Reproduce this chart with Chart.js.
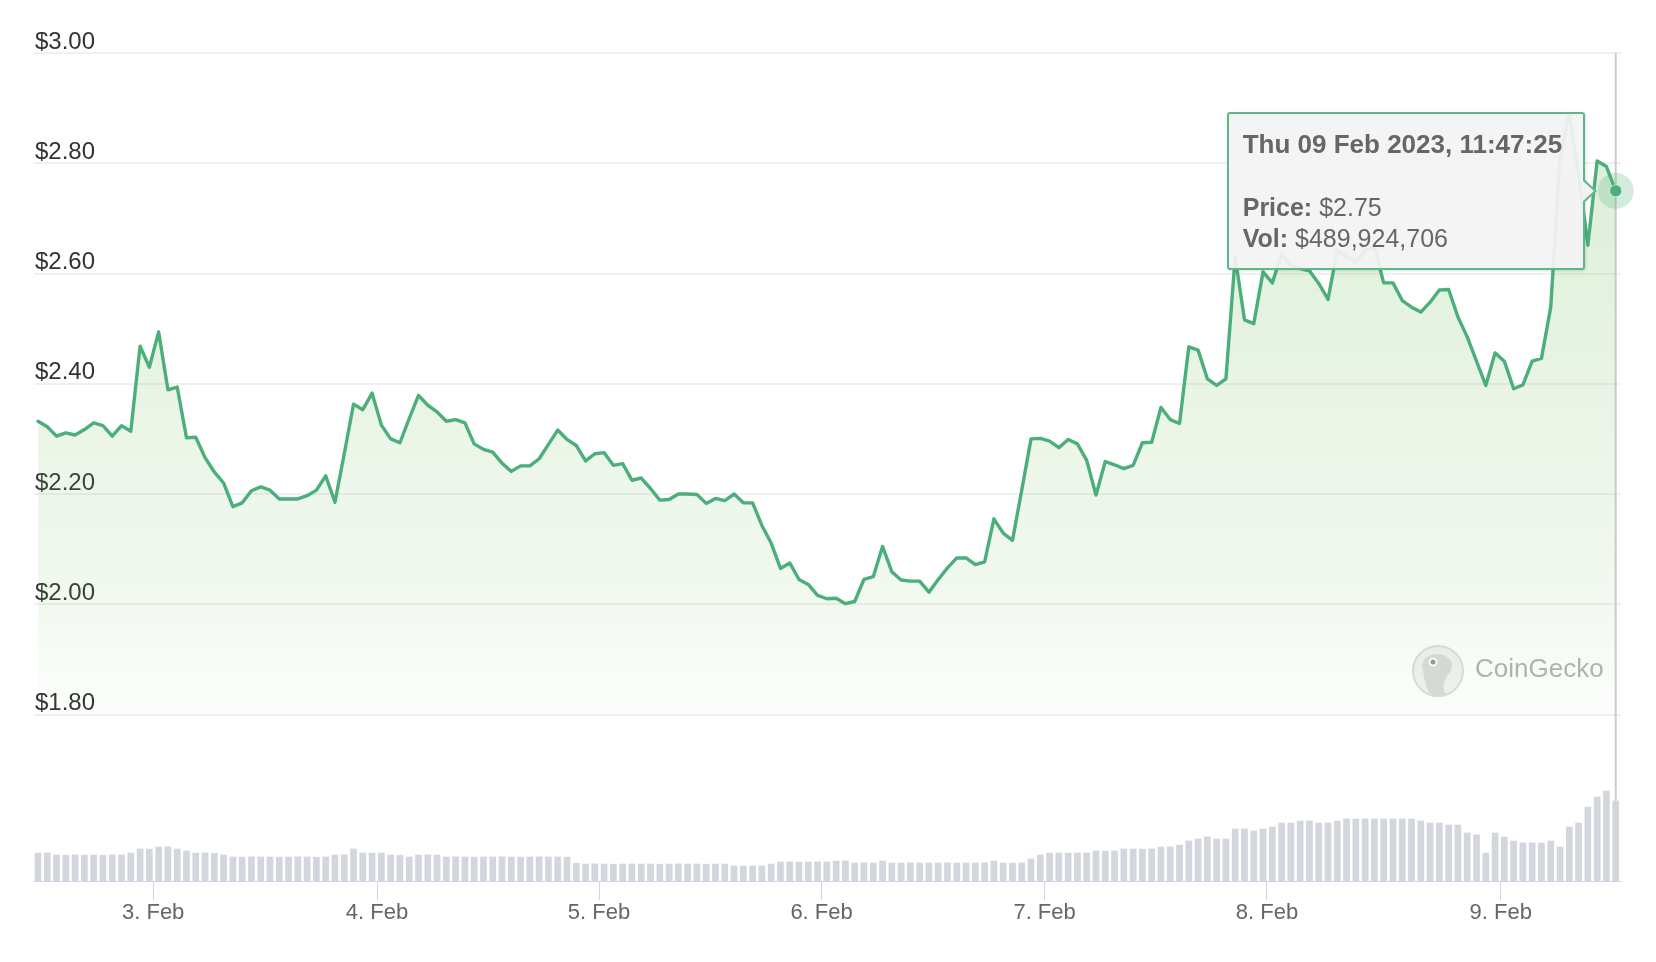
<!DOCTYPE html>
<html>
<head>
<meta charset="utf-8">
<script src="https://cdn.jsdelivr.net/npm/chart.js@4.4.1/dist/chart.umd.min.js"></script>
<style>
  html, body { margin: 0; padding: 0; background: #fff; }
  #wrap { position: relative; width: 1656px; height: 962px; }
  #tip {
    position: absolute; display: none; box-sizing: border-box;
    width: 358px; height: 158px; padding: 15px 14px 0 14px;
    background: rgba(243, 243, 243, 0.93); border: 2px solid #5cb88a; border-radius: 3px;
    box-shadow: 1px 1px 3px rgba(0, 0, 0, 0.12);
    font-family: 'Liberation Sans', Arial, sans-serif; color: #666; font-size: 25px; line-height: 31.5px;
    white-space: nowrap;
  }
  #tip .t { font-weight: bold; font-size: 26px; }
  #tip::before {
    content: ''; position: absolute; right: -14px; top: 50%; margin-top: -12px;
    border-left: 13px solid #5cb88a; border-top: 12px solid transparent; border-bottom: 12px solid transparent;
  }
  #tip::after {
    content: ''; position: absolute; right: -11px; top: 50%; margin-top: -10px;
    border-left: 11px solid #f3f3f3; border-top: 10px solid transparent; border-bottom: 10px solid transparent;
  }
</style>
</head>
<body>
<div id="wrap">
  <canvas id="chart" width="1656" height="962"></canvas>
  <div id="tip"></div>
</div>
<script>
// hourly price (USD), 2 Feb 11:47 -> 9 Feb 11:47
const prices = [
  2.332, 2.322, 2.305, 2.311, 2.307, 2.317, 2.329, 2.324, 2.305, 2.324,
  2.314, 2.468, 2.430, 2.494, 2.389, 2.394, 2.302, 2.303, 2.266, 2.240,
  2.220, 2.177, 2.184, 2.206, 2.213, 2.207, 2.191, 2.191, 2.191, 2.197,
  2.207, 2.233, 2.185, 2.273, 2.363, 2.353, 2.383, 2.325, 2.300, 2.293,
  2.337, 2.379, 2.361, 2.349, 2.332, 2.335, 2.329, 2.291, 2.281, 2.276,
  2.256, 2.241, 2.251, 2.251, 2.264, 2.290, 2.316, 2.299, 2.288, 2.260,
  2.273, 2.275, 2.252, 2.255, 2.225, 2.229, 2.210, 2.189, 2.190, 2.200,
  2.200, 2.199, 2.183, 2.192, 2.188, 2.200, 2.184, 2.184, 2.143, 2.111,
  2.065, 2.075, 2.045, 2.036, 2.016, 2.010, 2.011, 2.001, 2.005, 2.045,
  2.050, 2.105, 2.059, 2.044, 2.042, 2.042, 2.022, 2.045, 2.066, 2.084,
  2.084, 2.072, 2.077, 2.155, 2.129, 2.116, 2.207, 2.300, 2.301, 2.296,
  2.284, 2.299, 2.291, 2.261, 2.198, 2.259, 2.253, 2.246, 2.252, 2.293,
  2.294, 2.357, 2.335, 2.328, 2.467, 2.461, 2.409, 2.397, 2.409, 2.630,
  2.516, 2.509, 2.603, 2.583, 2.636, 2.615, 2.609, 2.605, 2.582, 2.553,
  2.642, 2.630, 2.621, 2.642, 2.648, 2.583, 2.583, 2.551, 2.539, 2.530,
  2.548, 2.570, 2.571, 2.521, 2.485, 2.441, 2.397, 2.456, 2.441, 2.391,
  2.398, 2.441, 2.446, 2.539, 2.811, 2.890, 2.780, 2.651, 2.804, 2.794,
  2.750
]

// 24h volume, millions of USD
const volumes = [
  171, 172, 159, 158, 160, 159, 159, 158, 160, 159,
  171, 196, 195, 208, 209, 196, 184, 171, 172, 170,
  159, 147, 146, 148, 147, 147, 146, 147, 148, 147,
  146, 147, 159, 160, 196, 172, 171, 171, 159, 158,
  147, 159, 160, 159, 147, 148, 147, 146, 147, 147,
  148, 147, 146, 147, 148, 147, 147, 146, 108, 104,
  105, 104, 103, 104, 105, 104, 104, 103, 104, 105,
  104, 104, 103, 104, 104, 92, 91, 92, 92, 104,
  116, 117, 116, 116, 117, 116, 122, 123, 110, 111,
  110, 122, 110, 110, 111, 110, 110, 110, 111, 110,
  110, 110, 111, 122, 110, 110, 111, 135, 159, 171,
  172, 171, 171, 172, 184, 183, 184, 196, 196, 195,
  196, 208, 209, 220, 245, 257, 270, 257, 257, 318,
  319, 306, 318, 331, 355, 355, 367, 368, 355, 355,
  367, 380, 379, 380, 380, 379, 380, 380, 379, 367,
  355, 355, 343, 343, 294, 282, 171, 294, 269, 245,
  233, 233, 232, 245, 208, 331, 355, 453, 514, 551,
  489.924706
]

const priceTicks = [1.8, 2.0, 2.2, 2.4, 2.6, 2.8, 3.0]
// midnight of each day, in sample units
const dayTickPos = [12.41, 36.53, 60.45, 84.43, 108.46, 132.42, 157.61]
const dayTickLabels = ['3. Feb', '4. Feb', '5. Feb', '6. Feb', '7. Feb', '8. Feb', '9. Feb']
const tooltipTitle = 'Thu 09 Feb 2023, 11:47:25'

const FONT = "'Liberation Sans', Arial, Helvetica, sans-serif"
const GREEN = '#4caf7b'

Chart.defaults.font.family = FONT

function areaFill(context) {
  const { chart } = context
  const { ctx, chartArea, scales } = chart
  if (!chartArea) return 'rgba(0,0,0,0)'
  const bottom = scales.y.getPixelForValue(1.8)
  const g = ctx.createLinearGradient(0, chartArea.top, 0, bottom)
  g.addColorStop(0, 'rgba(120,190,100,0.28)')
  g.addColorStop(0.83, 'rgba(120,190,100,0.095)')
  g.addColorStop(1, 'rgba(120,190,100,0.02)')
  return g
}

const fmtPrice = v => '$' + v.toFixed(2)
const fmtVol = v => '$' + Math.round(v * 1e6).toLocaleString('en-US')

function renderTooltip({ tooltip }) {
  const el = document.getElementById('tip')
  if (tooltip.opacity === 0 || !tooltip.dataPoints || !tooltip.dataPoints.length) {
    el.style.display = 'none'
    return
  }
  const i = tooltip.dataPoints[0].dataIndex
  el.innerHTML = `<div class="t">${tooltipTitle}</div><div>&nbsp;</div>` +
    `<div><b>Price:</b> ${fmtPrice(prices[i])}</div><div><b>Vol:</b> ${fmtVol(volumes[i])}</div>`
  el.style.display = 'block'
  el.style.left = (tooltip.caretX - 31 - el.offsetWidth) + 'px'
  el.style.top = (tooltip.caretY - el.offsetHeight / 2) + 'px'
}

// crosshair, hover halo and the watermark
const hoverMarks = {
  id: 'hoverMarks',
  beforeDatasetsDraw(chart) {
    const { ctx, chartArea } = chart
    // watermark
    const tx = chartArea.right - 146, ty = chartArea.bottom - 204
    ctx.save()
    ctx.fillStyle = '#f1f1f1'
    ctx.strokeStyle = '#dcdcdc'
    ctx.lineWidth = 2
    ctx.beginPath(); ctx.arc(tx - 37, ty - 6, 25, 0, Math.PI * 2); ctx.fill(); ctx.stroke()
    ctx.fillStyle = '#dadada'
    ctx.beginPath(); ctx.ellipse(tx - 38, ty - 11, 15, 12, 0, 0, Math.PI * 2); ctx.fill()
    ctx.beginPath(); ctx.moveTo(tx - 52, ty - 8); ctx.quadraticCurveTo(tx - 50, ty + 12, tx - 44, ty + 18)
    ctx.lineTo(tx - 30, ty + 18); ctx.quadraticCurveTo(tx - 34, ty + 6, tx - 26, ty - 4); ctx.closePath(); ctx.fill()
    ctx.fillStyle = '#fff'
    ctx.beginPath(); ctx.arc(tx - 42, ty - 15, 4.5, 0, Math.PI * 2); ctx.fill()
    ctx.fillStyle = '#9a9a9a'
    ctx.beginPath(); ctx.arc(tx - 42, ty - 15, 2.5, 0, Math.PI * 2); ctx.fill()
    ctx.fillStyle = '#b2b2b2'
    ctx.font = '26px ' + FONT
    ctx.textBaseline = 'alphabetic'
    ctx.fillText('CoinGecko', tx, ty)
    ctx.restore()

    const act = chart.getActiveElements()
    if (!act.length) return
    const p = act[0].element
    ctx.save()
    ctx.strokeStyle = '#cccccc'
    ctx.lineWidth = 2
    ctx.beginPath()
    ctx.moveTo(p.x, chartArea.top)
    ctx.lineTo(p.x, chartArea.bottom)
    ctx.stroke()
    ctx.restore()
  },
  afterDatasetsDraw(chart) {
    const act = chart.getActiveElements()
    if (!act.length) return
    const { ctx } = chart
    const p = act[0].element
    ctx.save()
    ctx.fillStyle = 'rgba(80,178,124,0.25)'
    ctx.beginPath(); ctx.arc(p.x, p.y, 18, 0, Math.PI * 2); ctx.fill()
    ctx.fillStyle = GREEN
    ctx.strokeStyle = 'rgba(255,255,255,0.5)'
    ctx.lineWidth = 1
    ctx.beginPath(); ctx.arc(p.x, p.y, 6, 0, Math.PI * 2); ctx.fill(); ctx.stroke()
    ctx.restore()
  }
}

const chart = new Chart(document.getElementById('chart'), {
  type: 'bar',
  data: {
    datasets: [
      {
        type: 'line',
        label: 'Price',
        data: prices.map((p, i) => ({ x: i, y: p })),
        yAxisID: 'y',
        borderColor: GREEN,
        borderWidth: 3.4,
        borderJoinStyle: 'round',
        borderCapStyle: 'round',
        pointRadius: 0,
        pointHoverRadius: 0,
        tension: 0,
        fill: { value: 1.8 },
        backgroundColor: areaFill,
        order: 0
      },
      {
        type: 'bar',
        label: 'Vol',
        data: volumes.map((v, i) => ({ x: i, y: v })),
        yAxisID: 'yv',
        backgroundColor: '#d3d6dc',
        barThickness: 6,
        order: 1
      }
    ]
  },
  options: {
    responsive: false,
    animation: false,
    events: [],
    layout: { padding: { top: 53, right: 35, left: 0, bottom: 0 } },
    plugins: {
      legend: { display: false },
      tooltip: { enabled: false, external: renderTooltip, mode: 'nearest', intersect: false }
    },
    scales: {
      x: {
        type: 'linear',
        min: -0.43,
        max: 170.57,
        offset: false,
        afterFit: s => { s.height = 81 },
        afterBuildTicks: s => { s.ticks = dayTickPos.map(v => ({ value: v })) },
        grid: { offset: false, drawOnChartArea: false, drawTicks: true, tickLength: 19, color: '#ccd6eb', lineWidth: 1 },
        border: { display: true, color: '#ccd6eb', width: 1 },
        ticks: {
          color: '#666', font: { size: 22 }, padding: 0, maxRotation: 0, autoSkip: false,
          callback: (v, idx) => dayTickLabels[idx]
        }
      },
      y: {
        position: 'left',
        min: 1.498,
        max: 3.0,
        afterFit: s => { s.width = 34 },
        afterBuildTicks: s => { s.ticks = priceTicks.map(v => ({ value: v })) },
        grid: { color: '#f0f0f0', lineWidth: 2, drawTicks: false },
        border: { display: false },
        ticks: {
          mirror: true, padding: 1, labelOffset: -11, color: '#333', font: { size: 24 },
          callback: v => '$' + v.toFixed(2)
        }
      },
      yv: { display: false, min: 0, max: 5070 }
    }
  },
  plugins: [hoverMarks]
})

const last = prices.length - 1
const el = chart.getDatasetMeta(0).data[last]
chart.setActiveElements([{ datasetIndex: 0, index: last }])
chart.tooltip.setActiveElements([{ datasetIndex: 0, index: last }], { x: el.x, y: el.y })
chart.update()
</script>
</body>
</html>
